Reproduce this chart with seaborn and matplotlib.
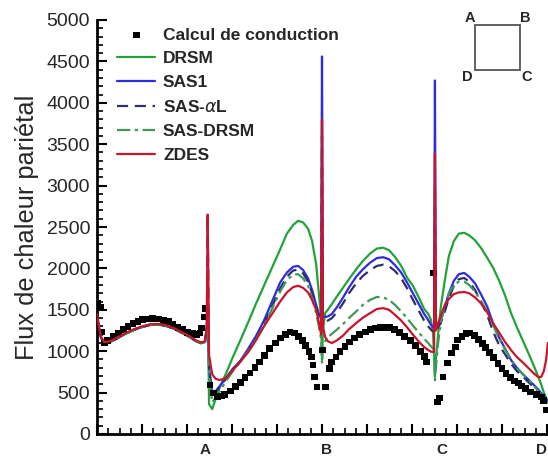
import numpy as np
import pandas as pd
import matplotlib
matplotlib.use('Agg')
import matplotlib.pyplot as plt
import seaborn as sns
from matplotlib.ticker import MultipleLocator
from matplotlib.patches import Rectangle

# ------------------------------------------------------------------------------------
# abscissa along the wall (A, B, C, D = corners of the square section)
s_left = [0.00, 0.04, 0.09, 0.16, 0.29, 0.47, 0.64, 0.82, 1.00, 1.18, 1.36, 1.53, 1.71, 1.89,
          2.07, 2.20, 2.31, 2.40, 2.44]
s_ab = [2.49, 2.56, 2.64, 2.73, 2.87, 3.02, 3.18, 3.36, 3.53, 3.71, 3.89, 4.07, 4.22, 4.36,
        4.47, 4.58, 4.69, 4.78, 4.87, 4.93, 4.98]
s_bc = [5.02, 5.07, 5.13, 5.22, 5.33, 5.47, 5.60, 5.76, 5.91, 6.07, 6.22, 6.36, 6.49, 6.62,
        6.76, 6.89, 7.02, 7.16, 7.27, 7.36, 7.42, 7.47, 7.49]
s_cd = [7.53, 7.58, 7.64, 7.73, 7.82, 7.93, 8.04, 8.16, 8.27, 8.40, 8.53, 8.67, 8.80, 8.93,
        9.07, 9.20, 9.33, 9.47, 9.60, 9.71, 9.80, 9.87, 9.93, 9.98, 10.02]
s_spikes = [2.46, 5.00, 7.51]
s_model = s_left + [s_spikes[0]] + s_ab + [s_spikes[1]] + s_bc + [s_spikes[2]] + s_cd

# DRSM
drsm_left = [1440, 1290, 1160, 1100, 1110, 1160, 1210, 1255, 1290, 1315, 1320, 1305, 1270, 1220,
             1165, 1120, 1095, 1110, 1250]
drsm_ab = [360, 300, 430, 568, 735, 930, 1125, 1350, 1570, 1790, 2010, 2230, 2420, 2525,
           2575, 2555, 2480, 2330, 2050, 1700, 1400]
drsm_bc = [1250, 1461, 1500, 1570, 1660, 1770, 1870, 1990, 2090, 2180, 2240, 2250, 2220, 2140,
           2030, 1890, 1790, 1640, 1510, 1450, 1380, 1200, 950]
drsm_cd = [900, 1200, 1534, 1860, 2150, 2330, 2420, 2430, 2400, 2340, 2250, 2130, 2010, 1860,
           1670, 1461, 1290, 1120, 960, 820, 700, 600, 500, 440, 380]
drsm_spikes = [1700, 900, 690]

# SAS1
sas1_left = [1445, 1295, 1165, 1105, 1115, 1165, 1215, 1260, 1295, 1320, 1325, 1310, 1275, 1225,
             1170, 1125, 1100, 1115, 1280]
sas1_ab = [800, 495, 520, 580, 680, 790, 880, 1030, 1180, 1370, 1600, 1830, 1950, 2020,
           2030, 1980, 1880, 1740, 1560, 1450, 1390]
sas1_bc = [1420, 1413, 1420, 1450, 1530, 1650, 1770, 1900, 1990, 2070, 2125, 2135, 2110, 2040,
           1950, 1830, 1700, 1560, 1450, 1377, 1320, 1290, 1280]
sas1_cd = [1300, 1330, 1377, 1530, 1700, 1850, 1930, 1945, 1900, 1820, 1690, 1540, 1340, 1170,
           1030, 894, 800, 720, 650, 590, 540, 495, 450, 420, 400]
sas1_spikes = [1800, 4560, 4270]

# SAS-alphaL
sasal_left = [1440, 1290, 1165, 1105, 1115, 1160, 1212, 1258, 1292, 1318, 1322, 1308, 1272, 1222,
              1168, 1122, 1098, 1112, 1290]
sasal_ab = [800, 480, 510, 570, 670, 780, 870, 1000, 1150, 1330, 1540, 1760, 1900, 1975,
            1985, 1940, 1840, 1700, 1530, 1420, 1360]
sasal_bc = [1380, 1360, 1370, 1400, 1470, 1580, 1700, 1820, 1910, 1980, 2030, 2045, 2025, 1970,
            1880, 1760, 1620, 1480, 1370, 1300, 1260, 1240, 1230]
sasal_cd = [1250, 1290, 1340, 1480, 1640, 1790, 1870, 1885, 1840, 1740, 1600, 1440, 1240, 1080,
            960, 850, 760, 690, 620, 560, 510, 470, 430, 400, 380]
sasal_spikes = [2650, 3600, 3000]

# SAS-DRSM
sasdrsm_left = [1440, 1290, 1160, 1100, 1112, 1162, 1212, 1258, 1292, 1318, 1322, 1308, 1272, 1222,
                1168, 1122, 1098, 1110, 1260]
sasdrsm_ab = [700, 380, 440, 520, 640, 760, 870, 1000, 1140, 1310, 1510, 1720, 1860, 1925,
              1930, 1880, 1790, 1640, 1460, 1300, 1150]
sasdrsm_bc = [1050, 1120, 1172, 1210, 1260, 1330, 1400, 1480, 1560, 1620, 1655, 1650, 1620, 1560,
              1480, 1400, 1310, 1220, 1150, 1099, 1060, 1030, 1000]
sasdrsm_cd = [800, 1100, 1350, 1550, 1700, 1800, 1840, 1840, 1800, 1720, 1610, 1480, 1320, 1160,
              1020, 900, 800, 720, 650, 580, 520, 470, 420, 380, 340]
sasdrsm_spikes = [1600, 850, 650]

# ZDES
zdes_left = [1450, 1300, 1170, 1110, 1120, 1170, 1220, 1265, 1300, 1325, 1330, 1315, 1280, 1230,
             1175, 1130, 1105, 1120, 1300]
zdes_ab = [950, 720, 665, 652, 675, 773, 870, 990, 1130, 1300, 1450, 1600, 1710, 1775,
           1790, 1765, 1710, 1620, 1500, 1350, 1200]
zdes_bc = [1300, 1172, 1120, 1099, 1130, 1190, 1265, 1340, 1405, 1460, 1510, 1520, 1500, 1440,
           1370, 1290, 1200, 1110, 1050, 1014, 995, 990, 1000]
zdes_cd = [1250, 1340, 1430, 1560, 1630, 1690, 1710, 1715, 1700, 1650, 1580, 1470, 1340, 1230,
           1110, 1014, 930, 860, 790, 730, 690, 688, 760, 894, 1100]
zdes_spikes = [2650, 3800, 3390]

# conduction computation (black squares)
s_cond = [0.02, 0.07, 0.11, 0.16, 0.24, 0.36, 0.47, 0.58, 0.69, 0.80, 0.91, 1.02, 1.13, 1.24,
          1.36, 1.47, 1.58, 1.69, 1.80, 1.91, 2.02, 2.13, 2.22, 2.29, 2.33, 2.38, 2.40,
          2.51, 2.58, 2.67, 2.76, 2.84, 2.96, 3.07, 3.18, 3.29, 3.40, 3.51, 3.62, 3.73, 3.84,
          3.96, 4.07, 4.18, 4.29, 4.38, 4.47, 4.56, 4.64, 4.71, 4.76, 4.80, 4.84, 4.89,
          5.02, 5.07, 5.16, 5.22, 5.31, 5.40, 5.51, 5.62, 5.73, 5.84, 5.96, 6.07, 6.18, 6.29,
          6.40, 6.51, 6.62, 6.73, 6.84, 6.96, 7.07, 7.18, 7.27, 7.33,
          7.47, 7.56, 7.62, 7.69, 7.78, 7.87, 7.96, 8.02, 8.11, 8.20, 8.29, 8.38, 8.47, 8.56,
          8.64, 8.73, 8.82, 8.91, 9.00, 9.09, 9.18, 9.27, 9.36, 9.44, 9.53, 9.64, 9.76, 9.87,
          9.93, 9.98]
q_cond = [1580, 1534, 1232, 1100, 1130, 1180, 1220, 1260, 1300, 1330, 1360, 1380, 1390, 1395,
          1390, 1375, 1355, 1325, 1290, 1260, 1230, 1210, 1200, 1220, 1280, 1413, 1520,
          592, 495, 450, 460, 480, 520, 570, 620, 680, 737, 800, 870, 950, 1030,
          1100, 1160, 1205, 1232, 1220, 1180, 1130, 1070, 1000, 930, 833, 688, 568,
          1014, 568, 790, 870, 930, 1000, 1060, 1110, 1160, 1200, 1232, 1260, 1280, 1290,
          1290, 1282, 1260, 1225, 1180, 1125, 1065, 1000, 940, 870,
          1945, 386, 434, 688, 857, 978, 1050, 1135, 1180, 1210, 1220, 1190, 1140, 1090,
          1040, 980, 920, 850, 790, 730, 680, 640, 616, 580, 545, 507, 475, 447,
          400, 290]

corner_labels = ['A', 'B', 'C', 'D']
corner_pos = [2.40, 5.11, 7.67, 9.88]

# ------------------------------------------------------------------------------------
def full(left, ab, bc, cd, spikes):
    return left + [spikes[0]] + ab + [spikes[1]] + bc + [spikes[2]] + cd

models = pd.DataFrame({
    's': s_model,
    'DRSM': full(drsm_left, drsm_ab, drsm_bc, drsm_cd, drsm_spikes),
    'SAS1': full(sas1_left, sas1_ab, sas1_bc, sas1_cd, sas1_spikes),
    'SAS-αL': full(sasal_left, sasal_ab, sasal_bc, sasal_cd, sasal_spikes),
    'SAS-DRSM': full(sasdrsm_left, sasdrsm_ab, sasdrsm_bc, sasdrsm_cd, sasdrsm_spikes),
    'ZDES': full(zdes_left, zdes_ab, zdes_bc, zdes_cd, zdes_spikes),
})
cond = pd.DataFrame({'s': s_cond, 'q': q_cond})

sns.set_theme(style='ticks')
plt.rcParams['font.family'] = ['Liberation Sans', 'DejaVu Sans']

fig = plt.figure(figsize=(5.48, 4.59), dpi=100)
ax = fig.add_axes([97/548, 25/459, 459/548, 414/459])

styles = {
    'DRSM': dict(color='#22a33a', linestyle='-'),
    'SAS1': dict(color='#2c2ce0', linestyle='-'),
    'SAS-αL': dict(color='#2e2e6e', linestyle=(0, (5, 3))),
    'SAS-DRSM': dict(color='#3d9a55', linestyle=(0, (6, 2, 1.5, 2))),
    'ZDES': dict(color='#c8142c', linestyle='-'),
}
legend_names = {'SAS-αL': r'SAS-$\alpha$L'}

sns.scatterplot(data=cond, x='s', y='q', ax=ax, marker='s', s=24, color='black',
                edgecolor='none', zorder=3, label='Calcul de conduction', legend=False)
for name, st in styles.items():
    sns.lineplot(data=models, x='s', y=name, ax=ax, sort=False, lw=1.6,
                 label=legend_names.get(name, name), zorder=4 if name == 'ZDES' else 2, **st)

ax.set_xlim(0, 10.2)
ax.set_ylim(0, 5000)
ax.yaxis.set_major_locator(MultipleLocator(500))
ax.yaxis.set_minor_locator(MultipleLocator(100))
ax.xaxis.set_major_locator(MultipleLocator(1))
ax.xaxis.set_minor_locator(MultipleLocator(0.25))
ax.tick_params(axis='both', which='major', direction='in', length=7, width=1.5, color='black')
ax.tick_params(axis='both', which='minor', direction='in', length=4, width=1.2, color='black')
ax.tick_params(axis='y', labelsize=14, pad=5)
ax.set_xticklabels([])
ax.set_xlabel('')
ax.set_ylabel('Flux de chaleur pariétal', fontsize=18.3, labelpad=5)
sns.despine(ax=ax)
for sp in ['left', 'bottom']:
    ax.spines[sp].set_linewidth(2)
    ax.spines[sp].set_color('black')

for lab, pos in zip(corner_labels, corner_pos):
    ax.text(pos, -0.039, lab, transform=ax.get_xaxis_transform(), ha='center', va='center',
            fontsize=11, fontweight='bold')

handles, labels = ax.get_legend_handles_labels()
order = ['Calcul de conduction', 'DRSM', 'SAS1', r'SAS-$\alpha$L', 'SAS-DRSM', 'ZDES']
hl = dict(zip(labels, handles))
leg = ax.legend([hl[k] for k in order], order, loc='upper left', bbox_to_anchor=(0.0436, 0.982),
                frameon=False, borderaxespad=0, borderpad=0, handlelength=2.2,
                handletextpad=0.45, labelspacing=0.5, prop={'size': 12.5, 'weight': 'bold'})

# inset sketch of the square section
fig.patches.append(Rectangle((475/548, 1 - 70/459), 45/548, 45/459, transform=fig.transFigure,
                             fill=False, edgecolor='#555555', lw=1.3))
for lab, px, py in [('A', 470, 18), ('B', 525, 18), ('D', 467, 77), ('C', 527, 77)]:
    fig.text(px/548, 1 - py/459, lab, ha='center', va='center', fontsize=10.5, fontweight='bold')

fig.savefig('out.png', dpi=100)
